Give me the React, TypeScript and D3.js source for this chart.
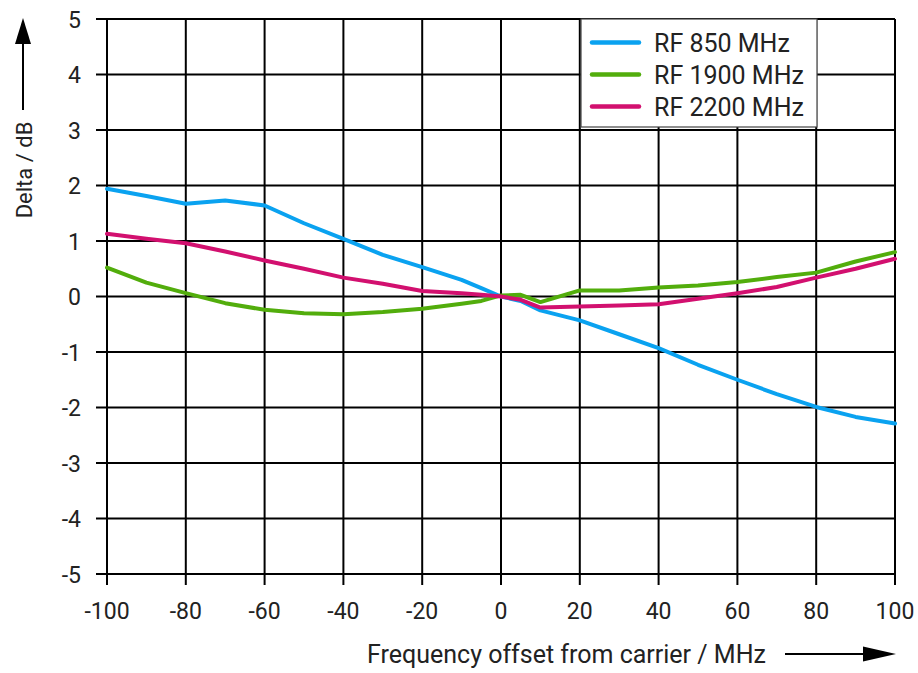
import React from "react";
import * as d3 from "d3";

const freqs = [-100, -90, -80, -70, -60, -50, -40, -30, -20, -10, -5, 0, 5, 10, 20, 30, 40, 50, 60, 70, 80, 90, 100];
const rf850 = [1.94, 1.81, 1.67, 1.73, 1.64, 1.32, 1.04, 0.75, 0.53, 0.30, 0.15, 0.0, -0.08, -0.25, -0.43, -0.68, -0.93, -1.23, -1.50, -1.76, -1.99, -2.17, -2.29];
const rf1900 = [0.52, 0.25, 0.06, -0.12, -0.24, -0.30, -0.32, -0.28, -0.22, -0.13, -0.08, 0.02, 0.03, -0.10, 0.11, 0.11, 0.16, 0.20, 0.26, 0.35, 0.43, 0.63, 0.80];
const rf2200 = [1.13, 1.04, 0.96, 0.81, 0.65, 0.50, 0.34, 0.23, 0.10, 0.06, 0.03, 0.0, -0.06, -0.20, -0.18, -0.16, -0.14, -0.04, 0.06, 0.17, 0.34, 0.50, 0.68];

const seriesNames = ["RF 850 MHz", "RF 1900 MHz", "RF 2200 MHz"];
const seriesColors = ["#0aa2f0", "#52ad0c", "#d2106f"];
const seriesValues = [rf850, rf1900, rf2200];

const xTicks = [-100, -80, -60, -40, -20, 0, 20, 40, 60, 80, 100];
const yTicks = [5, 4, 3, 2, 1, 0, -1, -2, -3, -4, -5];

const xTitle = "Frequency offset from carrier / MHz";
const yTitle = "Delta / dB";

export default function App() {
  const W = 918, H = 673;
  const left = 107, right = 895, top = 19, bottom = 574;
  const x = d3.scaleLinear().domain([-100, 100]).range([left, right]);
  const y = d3.scaleLinear().domain([-5, 5]).range([bottom, top]);
  const font = "Roboto, 'Liberation Sans', sans-serif";
  const line = d3.line<[number, number]>().x(d => x(d[0])).y(d => y(d[1]));

  return (
    <svg width={W} height={H} style={{ position: "absolute", left: 0, top: 0, background: "#fff" }}>
      <rect x={0} y={0} width={W} height={H} fill="#fff" />
      {/* grid */}
      {xTicks.map(t => (
        <line key={"gx" + t} x1={x(t)} x2={x(t)} y1={top} y2={bottom + 11} stroke="#000" strokeWidth={2} />
      ))}
      {yTicks.map(t => (
        <line key={"gy" + t} x1={left - 11} x2={right} y1={y(t)} y2={y(t)} stroke="#000" strokeWidth={2} />
      ))}
      {/* tick labels */}
      {xTicks.map(t => (
        <text key={"lx" + t} x={x(t)} y={619} textAnchor="middle" fontFamily={font} fontSize={23} fill="#222">{t}</text>
      ))}
      {yTicks.map(t => (
        <text key={"ly" + t} x={81} y={y(t) + 8.5} textAnchor="end" fontFamily={font} fontSize={23} fill="#222">{t}</text>
      ))}
      {/* series */}
      {seriesValues.map((vals, i) => (
        <path key={"s" + i} d={line(freqs.map((f, j) => [f, vals[j]] as [number, number])) || ""} fill="none" stroke={seriesColors[i]} strokeWidth={4} strokeLinejoin="round" strokeLinecap="round" />
      ))}
      {/* legend */}
      <rect x={581} y={top} width={236} height={108} fill="#fff" stroke="#444" strokeWidth={1.2} />
      {seriesNames.map((n, i) => (
        <g key={"lg" + i}>
          <line x1={592} x2={639} y1={42.5 + i * 32} y2={42.5 + i * 32} stroke={seriesColors[i]} strokeWidth={4.5} strokeLinecap="round" />
          <text x={654} y={42.5 + i * 32 + 9} fontFamily={font} fontSize={25} fill="#222">{n}</text>
        </g>
      ))}
      {/* x title + arrow */}
      <text x={367} y={663} fontFamily={font} fontSize={25} fill="#222">{xTitle}</text>
      <line x1={785} x2={866} y1={654} y2={654} stroke="#000" strokeWidth={2} />
      <path d="M863,646.5 L896,654 L863,661.5 Z" fill="#000" />
      {/* y title + arrow */}
      <text transform="translate(32,170) rotate(-90)" textAnchor="middle" fontFamily={font} fontSize={22} fill="#222">{yTitle}</text>
      <line x1={23} x2={23} y1={110} y2={40} stroke="#000" strokeWidth={2} />
      <path d="M15,44 L23,18 L31,44 Z" fill="#000" />
    </svg>
  );
}
